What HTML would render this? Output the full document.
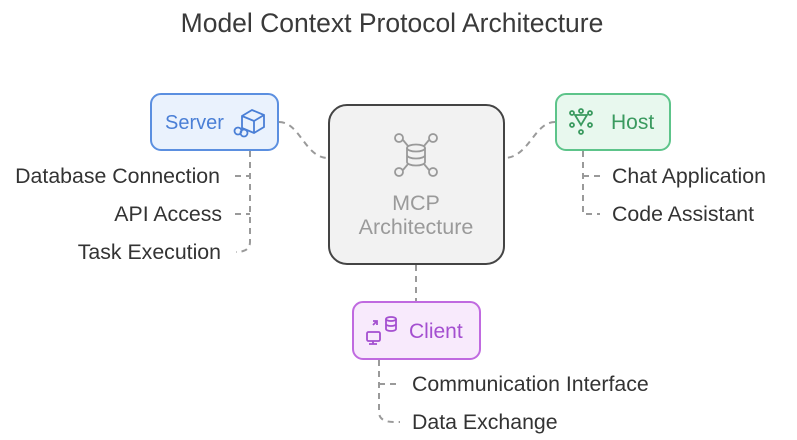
<!DOCTYPE html>
<html><head><meta charset="utf-8"><style>
html,body{margin:0;padding:0;background:#fff;}
svg{display:block;font-family:"Liberation Sans",sans-serif;}
</style></head><body>
<svg width="797" height="440" viewBox="0 0 797 440" xmlns="http://www.w3.org/2000/svg">
<text x="392" y="32" text-anchor="middle" font-size="26.5" fill="#3a3a3a">Model Context Protocol Architecture</text>
<g fill="none" stroke="#9a9a9a" stroke-width="2" stroke-dasharray="6,5">
<path d="M279 122 C300 122 305 158 328 158"/>
<path d="M555 122 C534 122 529 158 504 158"/>
<path d="M416 265 L416 301"/>
<path d="M250 151 L250 242 Q250 252 236 252"/>
<path d="M235 176 L250 176"/><path d="M235 214 L250 214"/>
<path d="M583 151 L583 214 L600 214"/><path d="M583 176 L600 176"/>
<path d="M379 360 L379 412 Q379 422 394 422 L400 422"/><path d="M379 384 L400 384"/>
</g>
<rect x="151" y="94" width="127" height="56" rx="10" fill="#eaf2fd" stroke="#5b8fe0" stroke-width="2"/>
<text x="165" y="129" font-size="20" fill="#4a7fd6">Server</text>
<g fill="none" stroke="#4a7fd6" stroke-width="1.8"><path d="M242 116 l10 -6 l12 5 v12 l-10 6 l-12 -5 z M242 116 l12 5 l10 -6 M254 121 v12"/><circle cx="238" cy="131" r="3.5"/><circle cx="244" cy="133" r="3.5"/></g>
<rect x="329" y="105" width="175" height="159" rx="18" fill="#f2f2f2" stroke="#444" stroke-width="2"/>
<g fill="none" stroke="#999" stroke-width="1.8">
<ellipse cx="416" cy="148" rx="9" ry="3.5"/><path d="M407 148 v14 a9 3.5 0 0 0 18 0 v-14 M407 155 a9 3.5 0 0 0 18 0"/>
<circle cx="399" cy="138" r="4"/><circle cx="433" cy="138" r="4"/><circle cx="399" cy="172" r="4"/><circle cx="433" cy="172" r="4"/>
<path d="M403 140 l5 6 M429 140 l-5 6 M403 170 l5 -6 M429 170 l-5 -6"/></g>
<text x="416" y="210" text-anchor="middle" font-size="21.5" fill="#9a9a9a">MCP</text>
<text x="416" y="234" text-anchor="middle" font-size="21.5" fill="#9a9a9a">Architecture</text>
<rect x="556" y="94" width="114" height="56" rx="10" fill="#e8f8ee" stroke="#5dc48a" stroke-width="2"/>
<g fill="none" stroke="#3a9a5f" stroke-width="1.8"><path d="M575 115 l6 10 l6 -10 z"/><circle cx="581" cy="111" r="2"/><circle cx="572" cy="125" r="2"/><circle cx="590" cy="125" r="2"/><circle cx="581" cy="132" r="2"/><circle cx="572" cy="113" r="2"/><circle cx="590" cy="113" r="2"/></g>
<text x="611" y="129" font-size="21" fill="#3a9a5f">Host</text>
<rect x="353" y="302" width="127" height="57" rx="10" fill="#f8eafc" stroke="#c06ae0" stroke-width="2"/>
<g fill="none" stroke="#a44fd0" stroke-width="1.8"><rect x="367" y="332" width="13" height="9" rx="1.5"/><path d="M373 341 v3 M369 344 h8 M373 325 l4 -4 M373 321 h4 v4"/><ellipse cx="391" cy="319" rx="5" ry="2"/><path d="M386 319 v10 a5 2 0 0 0 10 0 v-10 M386 324 a5 2 0 0 0 10 0"/></g>
<text x="409" y="338" font-size="21" fill="#a44fd0">Client</text>
<g font-size="21.3" fill="#333">
<text x="220" y="183" text-anchor="end">Database Connection</text>
<text x="222" y="221" text-anchor="end">API Access</text>
<text x="221" y="259" text-anchor="end">Task Execution</text>
<text x="612" y="183">Chat Application</text>
<text x="612" y="221">Code Assistant</text>
<text x="412" y="391">Communication Interface</text>
<text x="412" y="429">Data Exchange</text>
</g>
</svg>
</body></html>
